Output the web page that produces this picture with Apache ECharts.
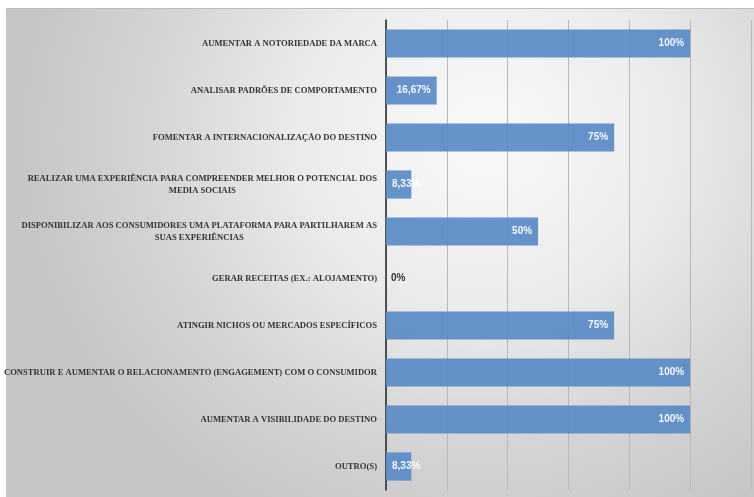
<!DOCTYPE html>
<html>
<head>
<meta charset="utf-8">
<script src="https://cdn.jsdelivr.net/npm/echarts@6/dist/echarts.min.js"></script>
<style>
  html, body { margin: 0; padding: 0; background: #ffffff; }
  #wrap { position: relative; width: 754px; height: 497px; overflow: hidden; }
  #panel {
    position: absolute; left: 6px; top: 8px; right: 0; bottom: 0;
    border-top: 1px solid #bdbdbd;
    background: radial-gradient(ellipse 62% 88% at 64% 26%, #fafafa 0%, #ebebeb 40%, #d5d5d5 72%, #c6c6c6 100%);
  }
  #chart { position: absolute; left: 0; top: 0; width: 754px; height: 497px; }
</style>
</head>
<body>
<div id="wrap">
  <div id="panel"></div>
  <div id="chart"></div>
</div>
<script>
// Objectives of the social media presence, share of respondents (%)
const categories = [
  'AUMENTAR A NOTORIEDADE DA MARCA',
  'ANALISAR PADRÕES DE COMPORTAMENTO',
  'FOMENTAR A INTERNACIONALIZAÇÃO DO DESTINO',
  'REALIZAR UMA EXPERIÊNCIA PARA COMPREENDER MELHOR O POTENCIAL DOS\nMEDIA SOCIAIS',
  'DISPONIBILIZAR AOS CONSUMIDORES UMA PLATAFORMA PARA PARTILHAREM AS\nSUAS EXPERIÊNCIAS',
  'GERAR RECEITAS (EX.: ALOJAMENTO)',
  'ATINGIR NICHOS OU MERCADOS ESPECÍFICOS',
  'CONSTRUIR E AUMENTAR O RELACIONAMENTO (ENGAGEMENT) COM O CONSUMIDOR',
  'AUMENTAR A VISIBILIDADE DO DESTINO',
  'OUTRO(S)'
];
const values = [100, 16.67, 75, 8.33, 50, 0, 75, 100, 100, 8.33];

const axisMin = 0;
const axisMax = 120;
const axisStep = 20;

function pct(v) {
  return String(v).replace('.', ',') + '%';
}

// Labels sit at the bar end; short bars keep them at the start, empty bars outside
const barData = values.map(v => {
  let label;
  if (v === 0) {
    label = { position: 'right', distance: 5, color: '#262626' };
  } else if (v < 10) {
    label = { position: 'insideLeft', distance: 6 };
  } else {
    label = { position: 'insideRight', distance: 6 };
  }
  return { value: v, label };
});

const chart = echarts.init(document.getElementById('chart'), null, { renderer: 'canvas' });

const labelFont = {
  fontFamily: '"Liberation Serif", serif',
  fontWeight: 'bold',
  fontSize: 8.6,
  color: '#333333',
  lineHeight: 12
};

chart.setOption({
  backgroundColor: 'transparent',
  animation: false,
  grid: { left: 386, right: 3, top: 20, bottom: 7, containLabel: false, outerBoundsMode: 'none' },
  xAxis: {
    type: 'value',
    min: axisMin,
    max: axisMax,
    interval: axisStep,
    axisLabel: { show: false },
    axisLine: { show: false },
    axisTick: { show: false },
    splitLine: { show: true, lineStyle: { color: '#b8b8b8', width: 1 } }
  },
  yAxis: {
    type: 'category',
    inverse: true,
    data: categories,
    axisLine: { show: true, lineStyle: { color: '#262626', width: 1.5 } },
    axisTick: { show: false },
    axisLabel: {
      margin: 9,
      align: 'right',
      formatter: function (txt) {
        const lines = txt.split('\n');
        if (lines.length === 1) return '{a|' + lines[0] + '}';
        return '{a|' + lines[0] + '}\n{c|' + lines[1] + '}';
      },
      rich: {
        a: Object.assign({}, labelFont),
        c: Object.assign({}, labelFont, { align: 'center' })
      }
    }
  },
  series: [{
    type: 'bar',
    data: barData,
    barCategoryGap: '40%',
    itemStyle: { color: '#5b8bc7', opacity: 0.93 },
    label: {
      show: true,
      color: '#ffffff',
      fontFamily: '"Liberation Sans", sans-serif',
      fontWeight: 'bold',
      fontSize: 10,
      formatter: p => pct(p.value)
    }
  }]
});
</script>
</body>
</html>
